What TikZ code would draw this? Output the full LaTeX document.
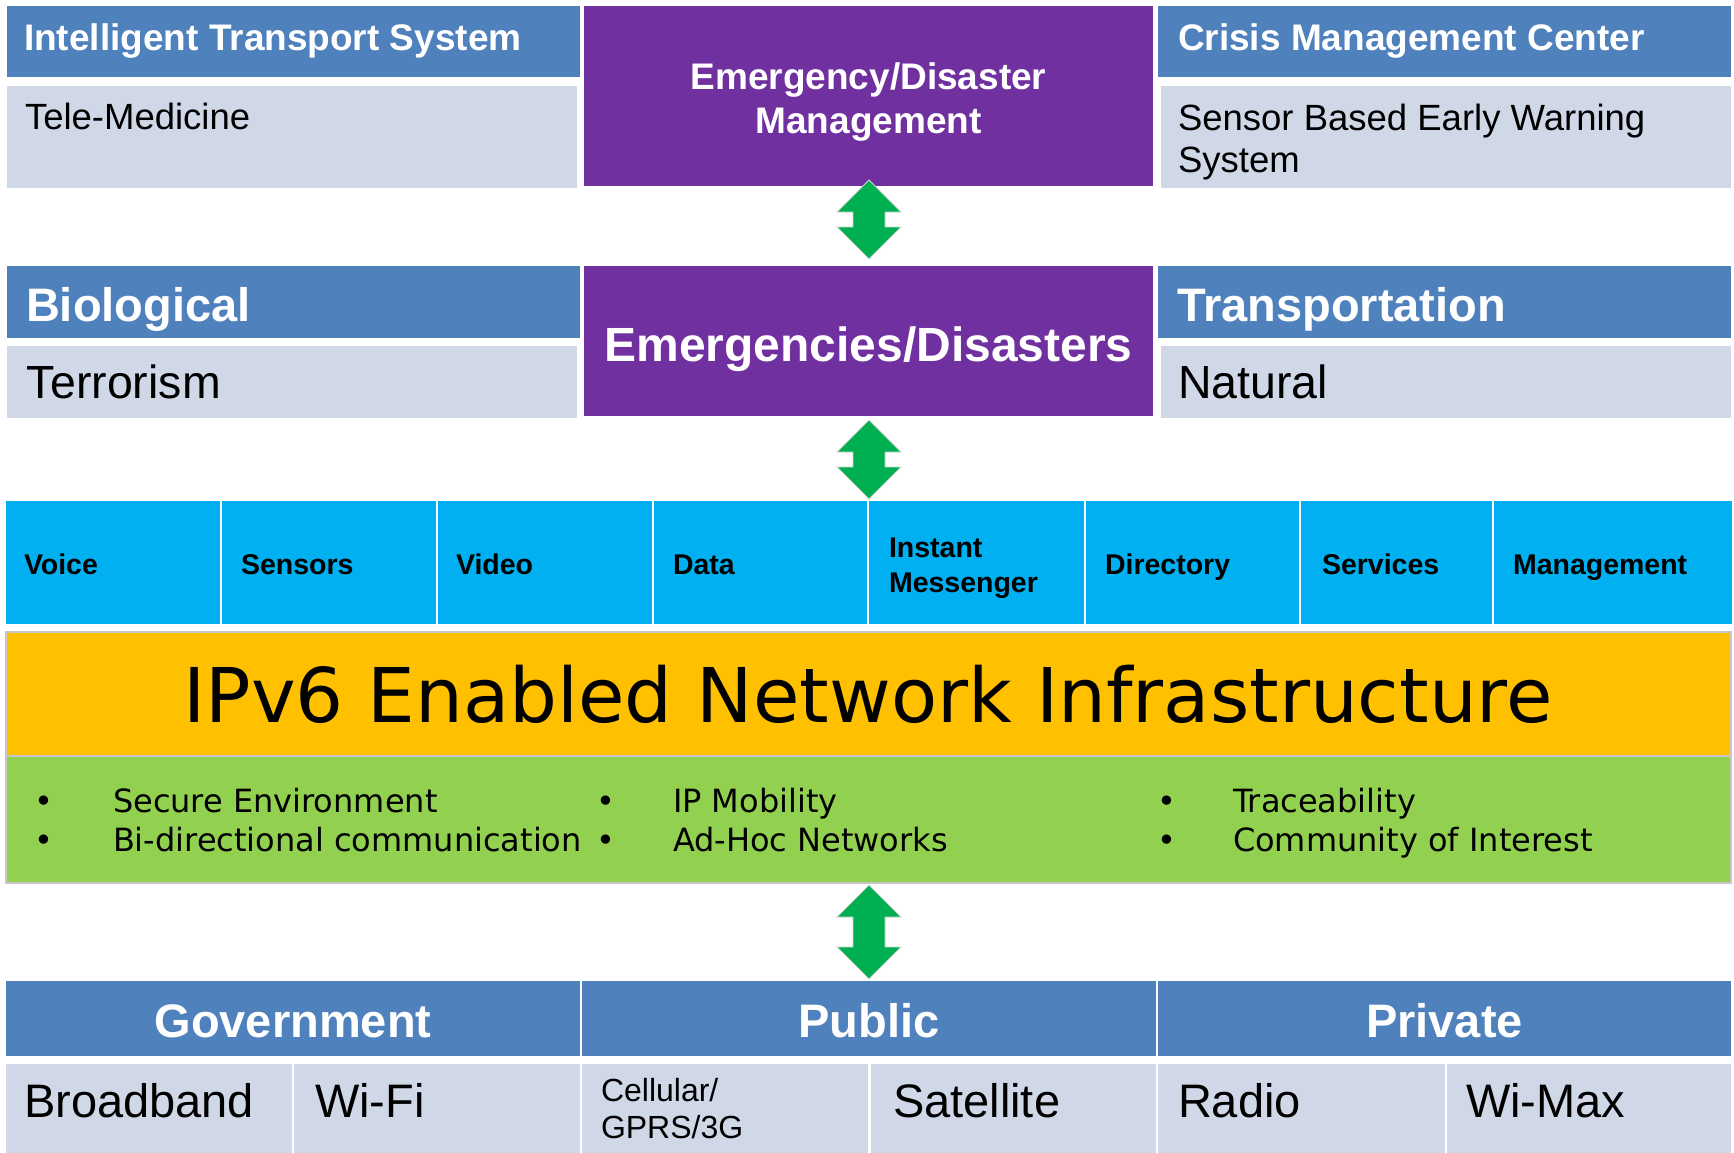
\documentclass[tikz,border=0pt]{standalone}
\usepackage{fontspec}
\setmainfont{Liberation Sans}
\newfontfamily\tah{DejaVu Sans}
\usetikzlibrary{calc}
\definecolor{hblue}{HTML}{4F81BD}
\definecolor{lblue}{HTML}{D0D8E8}
\definecolor{purp}{HTML}{7030A0}
\definecolor{cyanb}{HTML}{00B0F0}
\definecolor{orng}{HTML}{FFC000}
\definecolor{grn}{HTML}{92D050}
\definecolor{agrn}{HTML}{00B050}
\tikzset{
  box/.style={rectangle, inner sep=0pt, outer sep=0pt, anchor=north west},
  hbox/.style={box, fill=hblue},
  lbox/.style={box, fill=lblue},
  pbox/.style={box, fill=purp},
  cbox/.style={box, fill=cyanb, minimum height=123},
  txt/.style={inner sep=0pt, outer sep=0pt, anchor=base west, align=left},
  htxt/.style={txt, text=white, font=\bfseries\fontsize{37}{44}\selectfont},
  ltxt/.style={txt, font=\fontsize{36.5}{42}\selectfont},
  bigh/.style={txt, text=white, font=\bfseries\fontsize{47}{52}\selectfont},
  bigl/.style={txt, font=\fontsize{46.5}{52}\selectfont},
  ctxt/.style={txt, font=\bfseries\fontsize{28.5}{35}\selectfont},
  gtxt/.style={txt, font=\tah\fontsize{32}{39}\selectfont},
  dbl/.style={fill=agrn, draw=black!18, line width=0.8pt},
}
\newcommand{\dblarrow}[2]{%
  \path[dbl] (#1) -- ($(#1)+(32,32)$) -- ($(#1)+(16,32)$) -- ($(#2)+(16,-32)$)
   -- ($(#2)+(32,-32)$) -- (#2) -- ($(#2)+(-32,-32)$) -- ($(#2)+(-16,-32)$)
   -- ($(#1)+(-16,32)$) -- ($(#1)+(-32,32)$) -- cycle;}
\begin{document}
\begin{tikzpicture}[x=1pt,y=-1pt]
\useasboundingbox (0,0) rectangle (1734,1152);
% ---- top row
\node[hbox, minimum width=573, minimum height=71] (its) at (7,6) {};
\node[lbox, minimum width=570, minimum height=102] (tele) at (7,86) {};
\node[pbox, minimum width=569, minimum height=180] (edm) at (584,6) {};
\node[hbox, minimum width=573, minimum height=71] (cmc) at (1158,6) {};
\node[lbox, minimum width=570, minimum height=102] (sbew) at (1161,86) {};
\node[htxt] (itsT) at (24,50) {Intelligent Transport System};
\node[ltxt] (teleT) at (25,129) {Tele-Medicine};
\node[htxt, anchor=base, align=center] (edmT) at (868.5,133) {Emergency/Disaster\\Management};
\node[htxt] (cmcT) at (1178,50) {Crisis Management Center};
\node[ltxt] (sbewT) at (1178,172) {Sensor Based Early Warning\\System};
% ---- second row
\node[hbox, minimum width=573, minimum height=72] (bio) at (7,266) {};
\node[lbox, minimum width=570, minimum height=72] (terr) at (7,346) {};
\node[pbox, minimum width=569, minimum height=150] (ed) at (584,266) {};
\node[hbox, minimum width=573, minimum height=72] (trans) at (1158,266) {};
\node[lbox, minimum width=570, minimum height=72] (nat) at (1161,346) {};
\node[bigh] (bioT) at (26,321) {Biological};
\node[bigl] (terrT) at (27,398) {Terrorism};
\node[bigh, anchor=base, font=\bfseries\fontsize{48}{52}\selectfont] (edT) at (868.5,361) {Emergencies/Disasters};
\node[bigh] (transT) at (1177,321) {Transportation};
\node[bigl] (natT) at (1178,398) {Natural};
% ---- cyan row
\node[cbox, minimum width=214] (voice) at (6,501) {};
\node[cbox, minimum width=214] (sens) at (222,501) {};
\node[cbox, minimum width=214] (video) at (438,501) {};
\node[cbox, minimum width=213] (data) at (654,501) {};
\node[cbox, minimum width=215] (im) at (869,501) {};
\node[cbox, minimum width=213] (dir) at (1086,501) {};
\node[cbox, minimum width=191] (serv) at (1301,501) {};
\node[cbox, minimum width=238] (mgmt) at (1494,501) {};
\node[ctxt] (voiceT) at (24,574) {Voice};
\node[ctxt] (sensT) at (241,574) {Sensors};
\node[ctxt] (videoT) at (456,574) {Video};
\node[ctxt] (dataT) at (673,574) {Data};
\node[ctxt] (imT) at (889,592) {Instant\\Messenger};
\node[ctxt] (dirT) at (1105,574) {Directory};
\node[ctxt] (servT) at (1322,574) {Services};
\node[ctxt] (mgmtT) at (1513,574) {Management};
% ---- IPv6 band
\node[box, fill=orng, draw=black!22, line width=1.2pt, minimum width=1725, minimum height=124] (ipv6) at (6,632) {};
\node[box, fill=grn, draw=black!22, line width=1.2pt, minimum width=1725, minimum height=127] (feat) at (6,756) {};
\node[txt, anchor=base, font=\tah\fontsize{75.5}{80}\selectfont] (ipv6T) at (868,722) {IPv6 Enabled Network Infrastructure};
\node[gtxt, anchor=base] (b1) at (44,812) {•};
\node[gtxt, anchor=base] (b2) at (44,851) {•};
\node[gtxt, anchor=base] (b3) at (606,812) {•};
\node[gtxt, anchor=base] (b4) at (606,851) {•};
\node[gtxt, anchor=base] (b5) at (1167,812) {•};
\node[gtxt, anchor=base] (b6) at (1167,851) {•};
\node[gtxt] (f1) at (113,812) {Secure Environment};
\node[gtxt] (f2) at (113,851) {Bi-directional communication};
\node[gtxt] (f3) at (673,812) {IP Mobility};
\node[gtxt] (f4) at (673,851) {Ad-Hoc Networks};
\node[gtxt] (f5) at (1233,812) {Traceability};
\node[gtxt] (f6) at (1233,851) {Community of Interest};
% ---- bottom row
\node[hbox, minimum width=574, minimum height=75] (gov) at (6,981) {};
\node[hbox, minimum width=574, minimum height=75] (pub) at (582,981) {};
\node[hbox, minimum width=573, minimum height=75] (priv) at (1158,981) {};
\node[lbox, minimum width=286, minimum height=92] (bb) at (6,1064) {};
\node[lbox, minimum width=286, minimum height=92] (wifi) at (294,1064) {};
\node[lbox, minimum width=286, minimum height=92] (cell) at (582,1064) {};
\node[lbox, minimum width=285, minimum height=92] (sat) at (871,1064) {};
\node[lbox, minimum width=287, minimum height=92] (radio) at (1158,1064) {};
\node[lbox, minimum width=284, minimum height=92] (wimax) at (1447,1064) {};
\node[bigh, anchor=base] (govT) at (293,1037) {Government};
\node[bigh, anchor=base] (pubT) at (869,1037) {Public};
\node[bigh, anchor=base] (privT) at (1444.5,1037) {Private};
\node[bigl, font=\fontsize{47}{52}\selectfont] (bbT) at (24,1117) {Broadband};
\node[bigl, font=\fontsize{47}{52}\selectfont] (wifiT) at (315,1117) {Wi-Fi};
\node[txt, font=\fontsize{32}{37}\selectfont] (cellT) at (601,1138) {Cellular/\\GPRS/3G};
\node[bigl, font=\fontsize{47}{52}\selectfont] (satT) at (893,1117) {Satellite};
\node[bigl, font=\fontsize{47}{52}\selectfont] (radioT) at (1178,1117) {Radio};
\node[bigl, font=\fontsize{47}{52}\selectfont] (wimaxT) at (1466,1117) {Wi-Max};
% ---- arrows
\coordinate (a1t) at ($(edm.south)+(0.5,-6)$);
\coordinate (a1b) at ($(ed.north)+(0.5,-7)$);
\coordinate (a2t) at ($(ed.south)+(0.5,4)$);
\coordinate (a2b) at ($(im.north west)+(0,-2)$);
\coordinate (a3t) at ($(feat.south)+(0.5,2)$);
\coordinate (a3b) at ($(pub.north)+(0,-2)$);
\dblarrow{a1t}{a1b}
\dblarrow{a2t}{a2b}
\dblarrow{a3t}{a3b}
\end{tikzpicture}
\end{document}
